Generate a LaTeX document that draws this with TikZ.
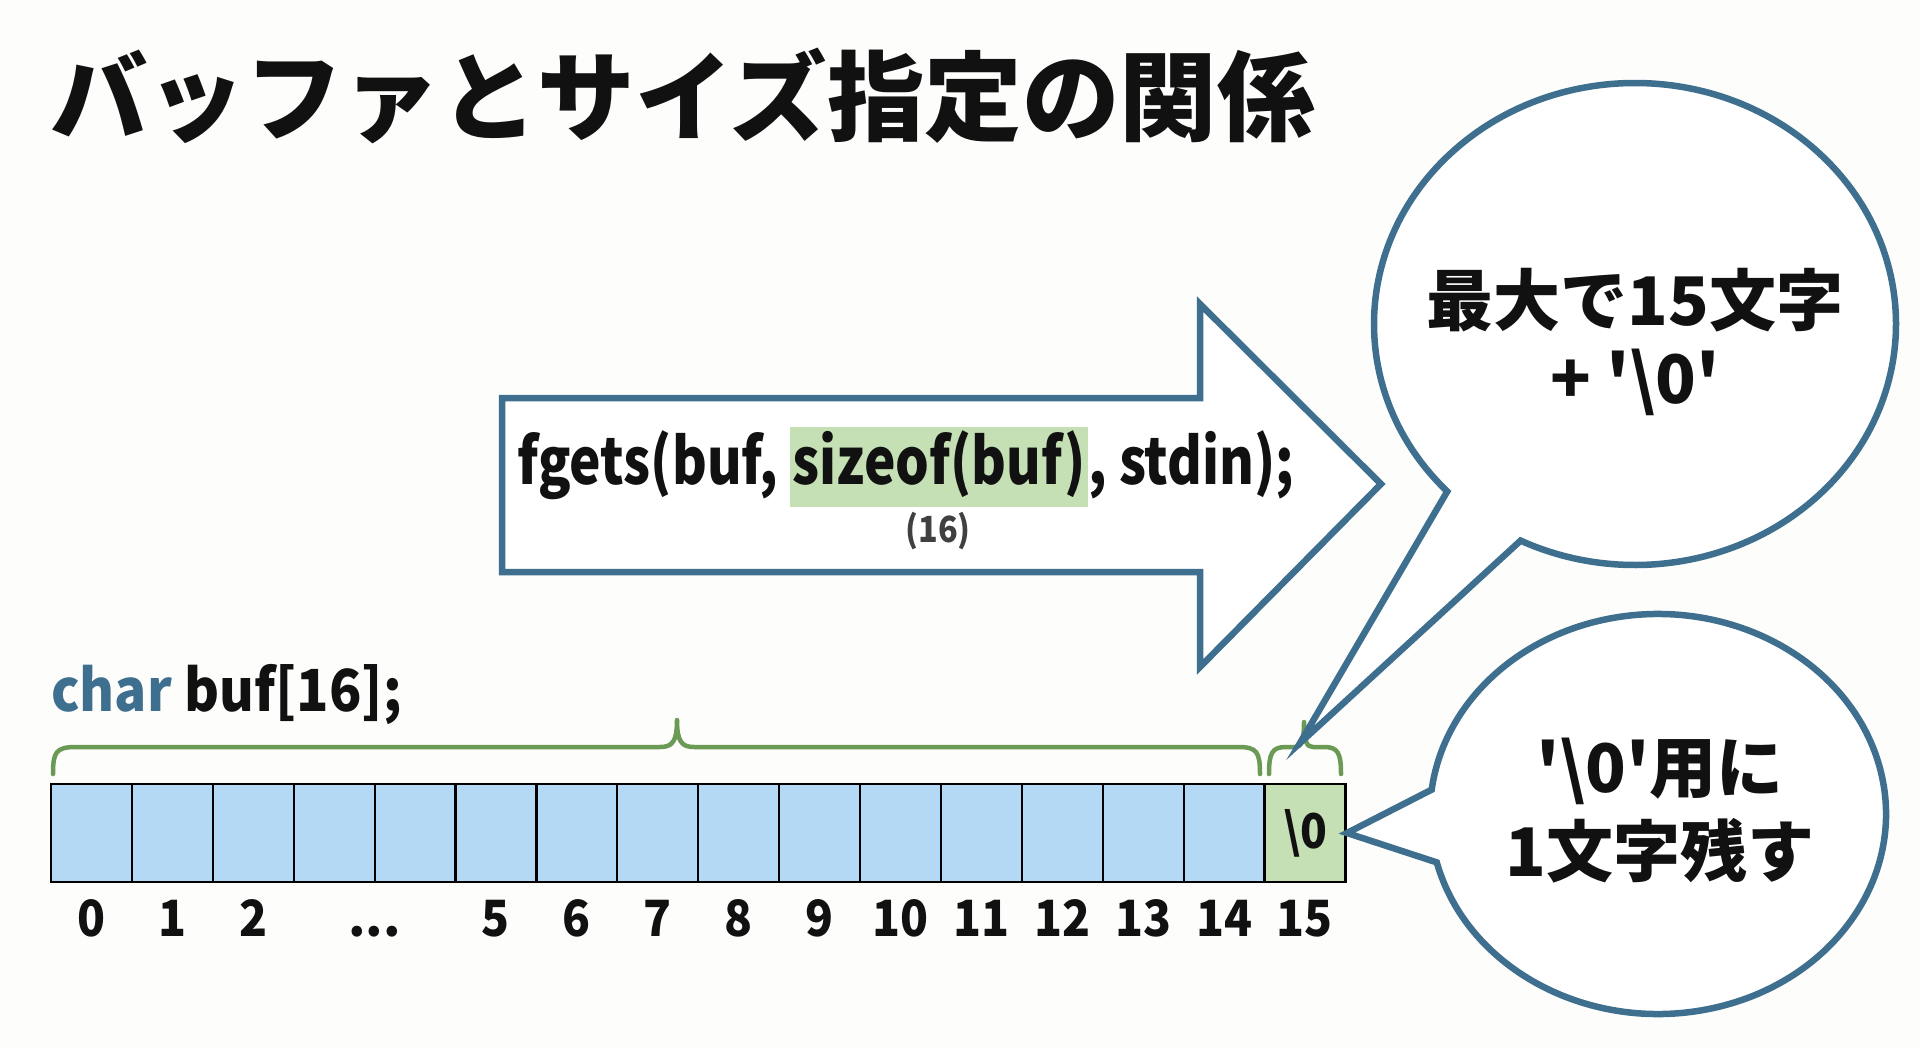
\documentclass[tikz,border=0pt]{standalone}
\usepackage{fontspec}
\usepackage{graphicx}
\setmainfont{Noto Sans CJK JP}[Ligatures=TeXOff]
\usetikzlibrary{calc}
\definecolor{steel}{HTML}{3E6F8E}
\definecolor{cellblue}{HTML}{B3D9F5}
\definecolor{cellgreen}{HTML}{C6E0B5}
\definecolor{bracegreen}{HTML}{6B9A55}
\definecolor{bg}{HTML}{FDFDFC}
\definecolor{ink}{HTML}{111111}
\definecolor{subgray}{HTML}{404040}
\newcommand{\sq}{\char"0027\relax}
\newcommand{\bs}{\char"005C\relax}
\begin{document}
\begin{tikzpicture}[x=1pt,y=-1pt,
  outline/.style={draw=steel, line width=6.5pt, line join=miter, fill=white},
  cell/.style={draw=black, line width=2.2pt, fill=cellblue, minimum width=80.9pt, minimum height=98pt, inner sep=0pt, outer sep=0pt},
  idx/.style={font=\fontsize{50}{50}\selectfont\bfseries, text=ink, inner sep=0pt, anchor=base},
  brace/.style={draw=bracegreen, line width=4.5pt, line cap=round, line join=round},
  btext/.style={font=\fontsize{67}{70}\selectfont\bfseries, text=ink, inner sep=0pt}
]
\useasboundingbox[fill=bg] (0,0) rectangle (1920,1047);

% title
\node[anchor=west, inner sep=0pt, text=ink, font=\fontsize{97.5}{100}\selectfont\bfseries] (title) at (50,96) {バッファとサイズ指定の関係};

% block arrow
\coordinate (a1) at (502,398);
\coordinate (a2) at (1200,398);
\coordinate (a3) at (1200,304);
\coordinate (a4) at (1381,484);
\coordinate (a5) at (1200,667);
\coordinate (a6) at (1200,572);
\coordinate (a7) at (502,572);
\draw[outline] (a1) -- (a2) -- (a3) -- (a4) -- (a5) -- (a6) -- (a7) -- cycle;

\setlength{\fboxsep}{3pt}
\node[inner sep=0pt, text=ink, font=\fontsize{64}{64}\selectfont\bfseries] (code) at (906,467)
  {\scalebox{0.83}[1]{fgets(buf, \colorbox{cellgreen}{\strut sizeof(buf)}, stdin);}};
\node[inner sep=0pt, text=subgray, font=\fontsize{36}{36}\selectfont\bfseries] (sixteen) at (938,531) {\scalebox{0.9}[1]{(16)}};

% declaration
\node[anchor=west, inner sep=0pt, text=ink, font=\fontsize{58}{58}\selectfont\bfseries] (decl) at (51,694)
  {\scalebox{0.92}[1]{\textcolor{steel}{char} buf[16];}};

% cells
\foreach \i in {0,...,14} {
  \node[cell] (c\i) at ({91.45+80.9*\i},833) {};
}
\node[cell, fill=cellgreen, font=\fontsize{48}{48}\selectfont\bfseries, text=ink] (c15) at ({91.45+80.9*15},833) {\scalebox{0.92}[1]{\bs0}};

% index labels
\foreach \i in {0,1,2,5,6,7,8,9,10,11,12,13,14,15} {
  \node[idx] (l\i) at ($(c\i.center)+(0,103)$) {\scalebox{0.92}[1]{\i}};
}
\node[idx] (ldots) at ($(c3.center)!0.5!(c4.center)+(0,103)$) {...};

% braces
\coordinate (bgL) at (53,774);
\coordinate (bgT) at (677,720);
\coordinate (bgR) at (1260,774);
\draw[brace] (bgL) .. controls (53,752) and (56,747) .. (76,747) -- (660,747)
  .. controls (672,747) and (677,742) .. (bgT)
  .. controls (677,742) and (682,747) .. (694,747) -- (1238,747)
  .. controls (1257,747) and (1260,752) .. (bgR);
\coordinate (bsL) at (1269,774);
\coordinate (bsT) at (1304,722);
\coordinate (bsR) at (1341,774);
\draw[brace] (bsL) .. controls (1269,753) and (1272,747) .. (1286,747) -- (1295,747)
  .. controls (1301,747) and (1304,742) .. (bsT)
  .. controls (1304,742) and (1307,747) .. (1313,747) -- (1324,747)
  .. controls (1338,747) and (1341,753) .. (bsR);

% bubble 1
\coordinate (b1c) at (1635,324);
\coordinate (b1l) at ($(b1c)+(224:261pt and 241pt)$);
\coordinate (b1r) at ($(b1c)+(244:261pt and 241pt)$);
\coordinate (b1tip) at (1300,743);
\draw[outline] (b1r) -- (b1tip) -- (b1l) arc[start angle=224, end angle=-116, x radius=261pt, y radius=241pt] -- cycle;
\node[btext] (t1a) at (1635,300) {最大で15文字};
\node[btext] (t1b) at (1635,382) {+ \sq\bs0\sq};

% bubble 2
\coordinate (b2c) at (1658,814);
\coordinate (b2u) at ($(b2c)+(173:228pt and 200pt)$);
\coordinate (b2d) at ($(b2c)+(194:228pt and 200pt)$);
\coordinate (b2tip) at (1347,833);
\draw[outline] (b2u) -- (b2tip) -- (b2d) arc[start angle=194, end angle=533, x radius=228pt, y radius=200pt] -- cycle;
\node[btext] (t2a) at (1660,771) {\sq\bs0\sq 用に};
\node[btext] (t2b) at (1660,851) {1文字残す};
\end{tikzpicture}
\end{document}
